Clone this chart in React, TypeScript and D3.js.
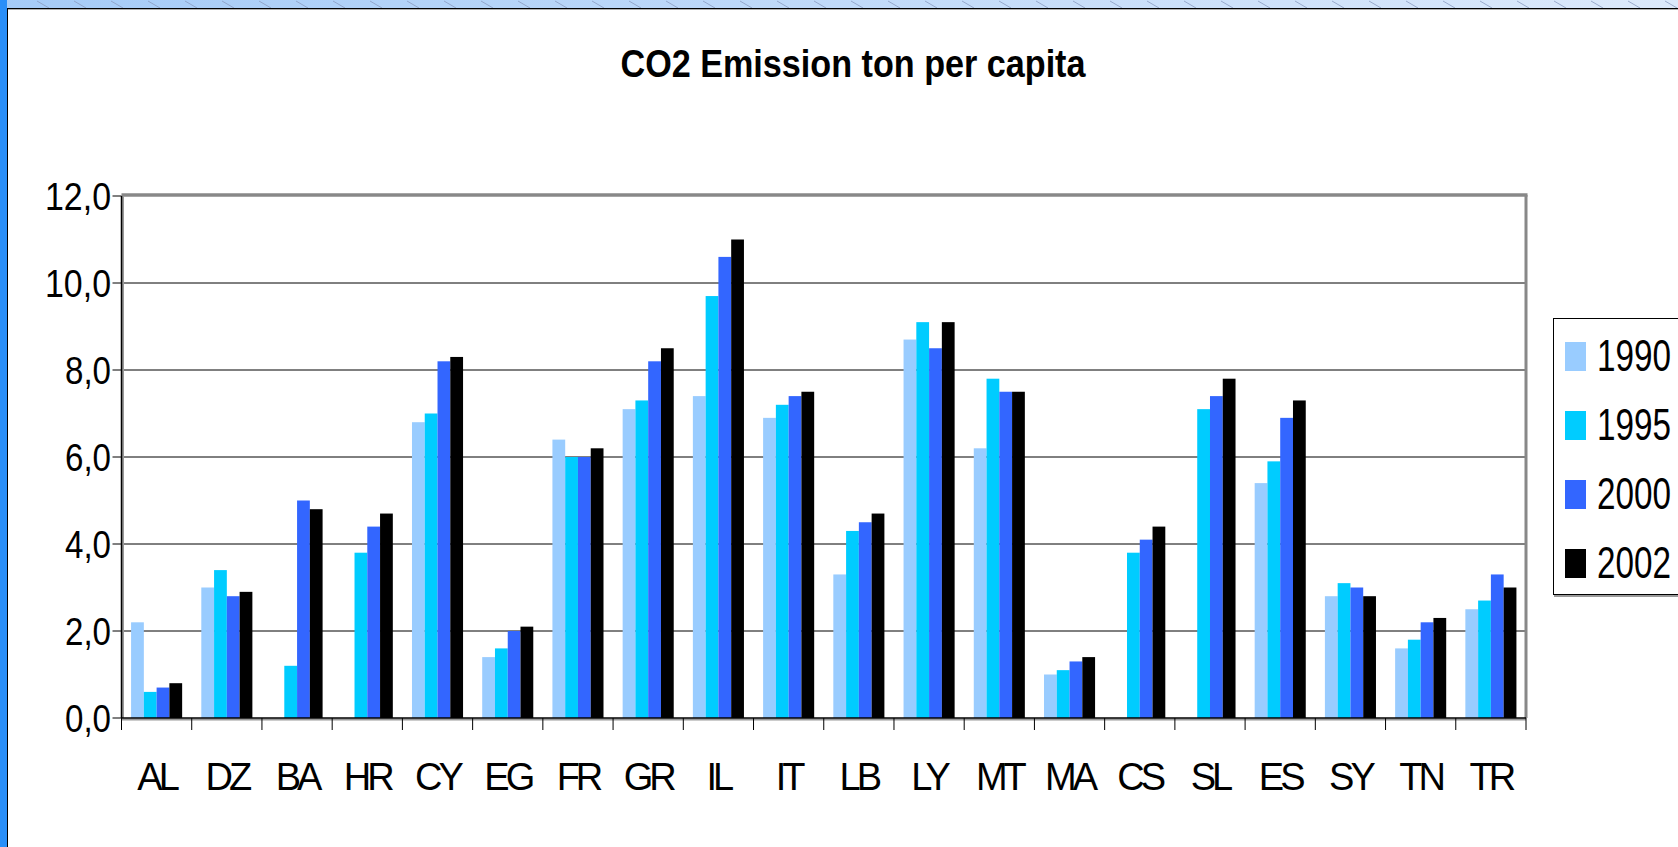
import React from "react";
import * as d3 from "d3";

const countries = ["AL", "DZ", "BA", "HR", "CY", "EG", "FR", "GR", "IL", "IT", "LB", "LY", "MT", "MA", "CS", "SL", "ES", "SY", "TN", "TR"];
const years = ["1990", "1995", "2000", "2002"];
const colors = ["#99ccff", "#00ccff", "#3366ff", "#000000"];

const v1990 = [2.2, 3.0, null, null, 6.8, 1.4, 6.4, 7.1, 7.4, 6.9, 3.3, 8.7, 6.2, 1.0, null, null, 5.4, 2.8, 1.6, 2.5];
const v1995 = [0.6, 3.4, 1.2, 3.8, 7.0, 1.6, 6.0, 7.3, 9.7, 7.2, 4.3, 9.1, 7.8, 1.1, 3.8, 7.1, 5.9, 3.1, 1.8, 2.7];
const v2000 = [0.7, 2.8, 5.0, 4.4, 8.2, 2.0, 6.0, 8.2, 10.6, 7.4, 4.5, 8.5, 7.5, 1.3, 4.1, 7.4, 6.9, 3.0, 2.2, 3.3];
const v2002 = [0.8, 2.9, 4.8, 4.7, 8.3, 2.1, 6.2, 8.5, 11.0, 7.5, 4.7, 9.1, 7.5, 1.4, 4.4, 7.8, 7.3, 2.8, 2.3, 3.0];
const series = [v1990, v1995, v2000, v2002];

const yTicks = [0, 2, 4, 6, 8, 10, 12];

const W = 1678;
const H = 847;
const plot = { left: 121.5, right: 1526, top: 196, bottom: 718 };
const font = "Arial, 'Liberation Sans', sans-serif";

export default function App() {
  const x = d3.scaleBand<string>().domain(countries).range([plot.left, plot.right]).padding(0);
  const inner = d3
    .scaleBand<string>()
    .domain(years)
    .range([0, x.step()])
    .paddingInner(0)
    .paddingOuter(0.75);
  const y = d3.scaleLinear().domain([0, 12]).range([plot.bottom, plot.top]);

  const fmt = (d: number) => d.toFixed(1).replace(".", ",");
  const hatch = d3.range(0, W, 37);

  return (
    <svg width={W} height={H} style={{ position: "absolute", left: 0, top: 0, background: "#fff" }}>
      <defs>
        <linearGradient id="strip" x1="0" x2="1" y1="0" y2="0">
          <stop offset="0" stopColor="#a5cbf7" />
          <stop offset="1" stopColor="#dce9fb" />
        </linearGradient>
      </defs>

      {/* window frame */}
      <rect x={0} y={0} width={W} height={8} fill="url(#strip)" />
      {hatch.map((h) => (
        <line key={h} x1={h + 37} y1={1} x2={h + 49} y2={8} stroke="#8a9cc0" strokeWidth={0.8} />
      ))}
      <rect x={0} y={0} width={7} height={H} fill="#2a8ff9" />
      <line x1={7} y1={8.5} x2={W} y2={8.5} stroke="#000" strokeWidth={1} />
      <line x1={7} y1={9.5} x2={W} y2={9.5} stroke="#b0b0b0" strokeWidth={1} />
      <line x1={7.5} y1={8} x2={7.5} y2={H} stroke="#000" strokeWidth={1} />

      {/* title */}
      <text
        x={853}
        y={77}
        textAnchor="middle"
        fontFamily={font}
        fontWeight="bold"
        fontSize={39}
        textLength={465}
        lengthAdjust="spacingAndGlyphs"
      >
        CO2 Emission ton per capita
      </text>

      {/* gridlines */}
      {yTicks.slice(1, -1).map((t) => (
        <line key={t} x1={plot.left} x2={plot.right} y1={y(t)} y2={y(t)} stroke="#000" strokeWidth={1} />
      ))}

      {/* bars */}
      {countries.map((c, i) => (
        <g key={c} transform={`translate(${x(c)},0)`}>
          {series.map((s, k) => {
            const v = s[i];
            if (v == null) return null;
            return (
              <rect
                key={k}
                x={inner(years[k])}
                y={y(v)}
                width={inner.bandwidth()}
                height={y(0) - y(v)}
                fill={colors[k]}
              />
            );
          })}
        </g>
      ))}

      {/* plot border (gray) */}
      <line x1={plot.left} x2={plot.right + 1.5} y1={plot.top - 1} y2={plot.top - 1} stroke="#888" strokeWidth={3.5} />
      <line x1={plot.right} x2={plot.right} y1={plot.top - 1} y2={plot.bottom} stroke="#888" strokeWidth={3} />
      <line x1={plot.left} x2={plot.right} y1={plot.bottom + 1.5} y2={plot.bottom + 1.5} stroke="#999" strokeWidth={2} />
      <line x1={plot.left + 1.5} x2={plot.left + 1.5} y1={plot.top} y2={plot.bottom} stroke="#999" strokeWidth={2} />

      {/* y axis */}
      <line x1={plot.left} x2={plot.left} y1={plot.top} y2={plot.bottom} stroke="#000" strokeWidth={1.5} />
      {yTicks.map((t) => {
        const label = fmt(t);
        return (
          <g key={t}>
            <line x1={plot.left - 9} x2={plot.left} y1={y(t)} y2={y(t)} stroke="#000" strokeWidth={1} />
            <text
              x={111}
              y={y(t) + 14}
              textAnchor="end"
              fontFamily={font}
              fontSize={39}
              textLength={label.length === 4 ? 66 : 46}
              lengthAdjust="spacingAndGlyphs"
            >
              {label}
            </text>
          </g>
        );
      })}

      {/* x axis */}
      <line x1={plot.left} x2={plot.right} y1={plot.bottom} y2={plot.bottom} stroke="#000" strokeWidth={1.5} />
      {d3.range(countries.length + 1).map((i) => {
        const xx = plot.left + i * x.step();
        return <line key={i} x1={xx} x2={xx} y1={plot.bottom} y2={plot.bottom + 12} stroke="#000" strokeWidth={1} />;
      })}
      {countries.map((c) => (
        <text
          key={c}
          x={(x(c) as number) + x.bandwidth() / 2}
          y={790}
          textAnchor="middle"
          fontFamily={font}
          fontSize={38}
          letterSpacing={-4}
        >
          {c}
        </text>
      ))}

      {/* legend */}
      <rect x={1553.5} y={318.5} width={140} height={276} fill="#fff" stroke="#000" strokeWidth={1} />
      <line x1={1554} x2={W} y1={596} y2={596} stroke="#999" strokeWidth={2} />
      {years.map((yr, k) => (
        <g key={yr} transform={`translate(0,${342 + k * 69})`}>
          <rect x={1565} y={0} width={21} height={29} fill={colors[k]} />
          <text
            x={1597}
            y={29}
            fontFamily={font}
            fontSize={44}
            textLength={74}
            lengthAdjust="spacingAndGlyphs"
          >
            {yr}
          </text>
        </g>
      ))}
    </svg>
  );
}
